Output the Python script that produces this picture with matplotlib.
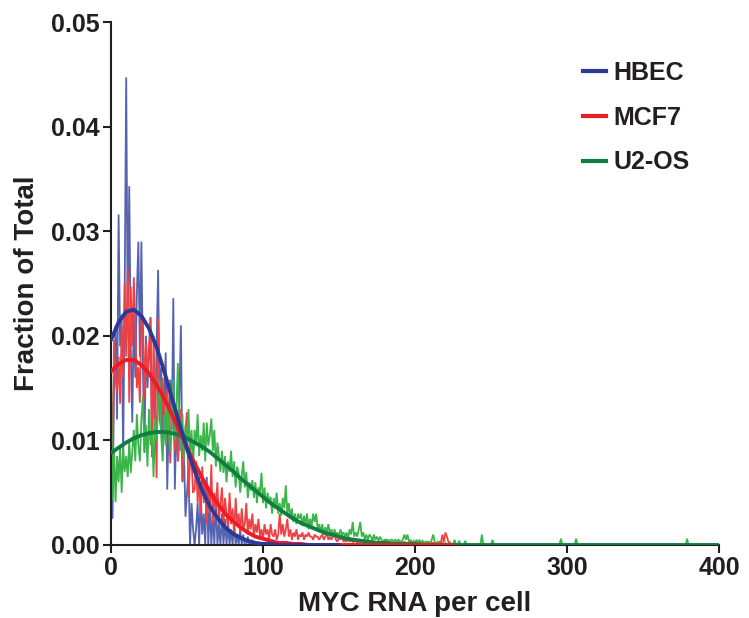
import matplotlib
matplotlib.use("Agg")
import matplotlib.pyplot as plt
from matplotlib.lines import Line2D

plt.rcParams['font.family'] = ['Liberation Sans', 'DejaVu Sans']
plt.rcParams['font.weight'] = 'bold'

# ---------------- data ----------------
series_names = ["HBEC", "MCF7", "U2-OS"]

hbec_y = [0.0025, 0.0026, 0.0150, 0.0210, 0.0120, 0.0316, 0.0190, 0.0220, 0.0083, 0.0240,
          0.0447, 0.0210, 0.0343, 0.0190, 0.0117, 0.0220, 0.0160, 0.0240, 0.0290, 0.0180,
          0.0290, 0.0170, 0.0088, 0.0200, 0.0150, 0.0180, 0.0218, 0.0084, 0.0170, 0.0120,
          0.0190, 0.0263, 0.0130, 0.0170, 0.0100, 0.0140, 0.0184, 0.0053, 0.0120, 0.0158,
          0.0110, 0.0236, 0.0053, 0.0120, 0.0080, 0.0140, 0.0210, 0.0060, 0.0090, 0.0027,
          0.0050, 0.0072, 0.0000, 0.0040, 0.0015, 0.0000, 0.0016, 0.0040, 0.0000, 0.0050,
          0.0010, 0.0030, 0.0000, 0.0065, 0.0000, 0.0040, 0.0000, 0.0030, 0.0000, 0.0045,
          0.0000, 0.0020, 0.0000, 0.0030, 0.0000, 0.0025, 0.0000, 0.0020, 0.0000, 0.0015,
          0.0000, 0.0020, 0.0000, 0.0010, 0.0000, 0.0015, 0.0000, 0.0010, 0.0000, 0.0000,
          0.0008, 0.0000, 0.0000, 0.0005, 0.0000, 0.0000]

mcf7_y = [0.0165, 0.0059, 0.0196, 0.0160, 0.0145, 0.0180, 0.0135, 0.0210, 0.0160, 0.0250,
          0.0180, 0.0265, 0.0136, 0.0247, 0.0190, 0.0256, 0.0212, 0.0150, 0.0170, 0.0136,
          0.0220, 0.0217, 0.0140, 0.0193, 0.0160, 0.0190, 0.0217, 0.0084, 0.0200, 0.0130,
          0.0064, 0.0217, 0.0120, 0.0110, 0.0160, 0.0130, 0.0100, 0.0150, 0.0120, 0.0078,
          0.0140, 0.0120, 0.0090, 0.0130, 0.0080, 0.0097, 0.0130, 0.0062, 0.0090, 0.0110,
          0.0127, 0.0046, 0.0080, 0.0081, 0.0050, 0.0053, 0.0080, 0.0040, 0.0065, 0.0030,
          0.0075, 0.0040, 0.0060, 0.0020, 0.0055, 0.0030, 0.0077, 0.0020, 0.0050, 0.0035,
          0.0060, 0.0020, 0.0040, 0.0055, 0.0020, 0.0045, 0.0030, 0.0015, 0.0050, 0.0020,
          0.0035, 0.0010, 0.0045, 0.0020, 0.0030, 0.0012, 0.0035, 0.0015, 0.0020, 0.0040,
          0.0010, 0.0025, 0.0015, 0.0030, 0.0008, 0.0020, 0.0012, 0.0025, 0.0008, 0.0015,
          0.0005, 0.0020, 0.0010, 0.0015, 0.0005, 0.0020, 0.0010, 0.0008, 0.0015, 0.0005,
          0.0010, 0.0030, 0.0010, 0.0020, 0.0008, 0.0015, 0.0025, 0.0008, 0.0015, 0.0005,
          0.0012, 0.0008, 0.0015, 0.0005, 0.0010, 0.0008, 0.0012, 0.0005, 0.0010, 0.0008,
          0.0012, 0.0008, 0.0008, 0.0005, 0.0010, 0.0008, 0.0008, 0.0005, 0.0008, 0.0010,
          0.0005, 0.0008, 0.0012, 0.0005, 0.0008, 0.0005, 0.0008, 0.0012, 0.0005, 0.0003,
          0.0008, 0.0005, 0.0010, 0.0003, 0.0005, 0.0003, 0.0008, 0.0003, 0.0005, 0.0003,
          0.0003, 0.0005, 0.0002, 0.0003, 0.0003, 0.0005, 0.0002, 0.0003, 0.0002, 0.0003,
          0.0003, 0.0002, 0.0005, 0.0002, 0.0003, 0.0002, 0.0002, 0.0003, 0.0002, 0.0002,
          0.0003, 0.0005, 0.0002, 0.0002, 0.0003, 0.0002, 0.0002, 0.0002, 0.0003, 0.0002,
          0.0003, 0.0002, 0.0002, 0.0003, 0.0002, 0.0002, 0.0002, 0.0003, 0.0002, 0.0002,
          0.0002, 0.0002, 0.0003, 0.0002, 0.0002, 0.0002, 0.0002, 0.0002, 0.0003, 0.0002,
          0.0002, 0.0002, 0.0002, 0.0002, 0.0002, 0.0002, 0.0003, 0.0002, 0.0010, 0.0003,
          0.0012, 0.0008, 0.0003, 0.0002]

u2os_y = [0.0174, 0.0043, 0.0090, 0.0041, 0.0085, 0.0060, 0.0095, 0.0050, 0.0094, 0.0070,
          0.0085, 0.0065, 0.0100, 0.0069, 0.0090, 0.0110, 0.0080, 0.0125, 0.0095, 0.0080,
          0.0120, 0.0142, 0.0090, 0.0115, 0.0075, 0.0130, 0.0095, 0.0110, 0.0065, 0.0120,
          0.0100, 0.0135, 0.0158, 0.0105, 0.0080, 0.0125, 0.0095, 0.0140, 0.0110, 0.0090,
          0.0120, 0.0158, 0.0100, 0.0130, 0.0174, 0.0105, 0.0090, 0.0125, 0.0080, 0.0115,
          0.0095, 0.0130, 0.0085, 0.0110, 0.0075, 0.0110, 0.0095, 0.0125, 0.0085, 0.0105,
          0.0090, 0.0117, 0.0080, 0.0117, 0.0095, 0.0105, 0.0121, 0.0090, 0.0110, 0.0075,
          0.0098, 0.0085, 0.0070, 0.0090, 0.0069, 0.0085, 0.0060, 0.0080, 0.0070, 0.0090,
          0.0065, 0.0080, 0.0055, 0.0075, 0.0069, 0.0050, 0.0065, 0.0080, 0.0055, 0.0070,
          0.0045, 0.0060, 0.0052, 0.0062, 0.0045, 0.0060, 0.0040, 0.0055, 0.0050, 0.0069,
          0.0040, 0.0055, 0.0035, 0.0050, 0.0040, 0.0046, 0.0030, 0.0045, 0.0035, 0.0050,
          0.0030, 0.0040, 0.0028, 0.0045, 0.0035, 0.0057, 0.0030, 0.0040, 0.0025, 0.0035,
          0.0022, 0.0030, 0.0020, 0.0030, 0.0025, 0.0030, 0.0018, 0.0028, 0.0020, 0.0030,
          0.0015, 0.0025, 0.0018, 0.0030, 0.0022, 0.0030, 0.0015, 0.0020, 0.0012, 0.0020,
          0.0010, 0.0017, 0.0012, 0.0020, 0.0010, 0.0015, 0.0008, 0.0015, 0.0010, 0.0012,
          0.0008, 0.0015, 0.0010, 0.0012, 0.0008, 0.0012, 0.0006, 0.0015, 0.0010, 0.0022,
          0.0008, 0.0012, 0.0008, 0.0015, 0.0022, 0.0008, 0.0012, 0.0005, 0.0010, 0.0005,
          0.0010, 0.0008, 0.0004, 0.0010, 0.0005, 0.0008, 0.0004, 0.0008, 0.0005, 0.0003,
          0.0005, 0.0005, 0.0005, 0.0003, 0.0005, 0.0005, 0.0003, 0.0005, 0.0003, 0.0005,
          0.0004, 0.0003, 0.0005, 0.0010, 0.0005, 0.0010, 0.0003, 0.0005, 0.0002, 0.0004,
          0.0002, 0.0005, 0.0002, 0.0005, 0.0002, 0.0004, 0.0002, 0.0003, 0.0001, 0.0003,
          0.0002, 0.0005, 0.0010, 0.0003, 0.0001, 0.0003, 0.0001, 0.0000, 0.0003, 0.0000,
          0.0002, 0.0000, 0.0000, 0.0003, 0.0000, 0.0000, 0.0005, 0.0000, 0.0000, 0.0004,
          0.0000, 0.0000, 0.0000, 0.0004, 0.0000, 0.0000, 0.0000, 0.0000, 0.0000, 0.0000,
          0.0000, 0.0000, 0.0000, 0.0000, 0.0010, 0.0000, 0.0000, 0.0000, 0.0000, 0.0000,
          0.0000, 0.0005, 0.0000, 0.0000, 0.0000, 0.0000, 0.0000, 0.0000, 0.0000, 0.0000,
          0.0000, 0.0000, 0.0000, 0.0000, 0.0000, 0.0000, 0.0000, 0.0000, 0.0000, 0.0000,
          0.0000, 0.0000, 0.0000, 0.0000, 0.0000, 0.0000, 0.0000, 0.0000, 0.0000, 0.0000,
          0.0000, 0.0000, 0.0000, 0.0000, 0.0000, 0.0000, 0.0000, 0.0000, 0.0000, 0.0000,
          0.0000, 0.0000, 0.0000, 0.0000, 0.0000, 0.0000, 0.0006, 0.0000, 0.0000, 0.0000,
          0.0000, 0.0000, 0.0000, 0.0000, 0.0000, 0.0000, 0.0006, 0.0000, 0.0000, 0.0000,
          0.0000, 0.0000, 0.0000, 0.0000, 0.0000, 0.0000, 0.0000, 0.0000, 0.0000, 0.0000,
          0.0000, 0.0000, 0.0000, 0.0000, 0.0000, 0.0000, 0.0000, 0.0000, 0.0000, 0.0000,
          0.0000, 0.0000, 0.0000, 0.0000, 0.0000, 0.0000, 0.0000, 0.0000, 0.0000, 0.0000,
          0.0000, 0.0000, 0.0000, 0.0000, 0.0000, 0.0000, 0.0000, 0.0000, 0.0000, 0.0000,
          0.0000, 0.0000, 0.0000, 0.0000, 0.0000, 0.0000, 0.0000, 0.0000, 0.0000, 0.0000,
          0.0000, 0.0000, 0.0000, 0.0000, 0.0000, 0.0000, 0.0000, 0.0000, 0.0000, 0.0000,
          0.0000, 0.0000, 0.0000, 0.0000, 0.0000, 0.0000, 0.0000, 0.0000, 0.0000, 0.0006,
          0.0000, 0.0000, 0.0000, 0.0000, 0.0000, 0.0000, 0.0000, 0.0000, 0.0000, 0.0000,
          0.0000, 0.0000, 0.0000, 0.0000, 0.0000, 0.0000, 0.0000, 0.0000, 0.0000, 0.0000]

# fitted curves, read every 5 units of MYC RNA per cell
fit_x = list(range(0, 401, 5))
hbec_fit = [0.0196, 0.0213, 0.0223, 0.0225, 0.0219, 0.0207, 0.0189, 0.0166, 0.0141, 0.0116,
            0.0092, 0.0071, 0.0052, 0.0037, 0.0026, 0.0017, 0.0011, 0.0007, 0.0004, 0.0002,
            0.0001, 0.0001, 0.0, 0.0, 0.0, 0.0, 0.0, 0.0, 0.0, 0.0, 0.0]
mcf7_fit = [0.0166, 0.0173, 0.0177, 0.0177, 0.0172, 0.0164, 0.0153, 0.0140, 0.0125, 0.0109,
            0.0093, 0.0078, 0.0064, 0.0051, 0.0040, 0.0030, 0.0023, 0.0017, 0.0012, 0.0008,
            0.0006, 0.0004, 0.0002, 0.0002, 0.0001, 0.0001, 0.0, 0.0, 0.0, 0.0,
            0.0, 0.0, 0.0, 0.0, 0.0, 0.0, 0.0, 0.0, 0.0, 0.0, 0.0, 0.0, 0.0, 0.0, 0.0, 0.0]
u2os_fit = [0.0088, 0.0093, 0.0098, 0.0102, 0.0105, 0.0107, 0.0108, 0.0108, 0.0107, 0.0105,
            0.0102, 0.0098, 0.0094, 0.0089, 0.0083, 0.0077, 0.0071, 0.0064, 0.0058, 0.0052,
            0.0046, 0.0040, 0.0035, 0.0030, 0.0025, 0.0021, 0.0018, 0.0015, 0.0012, 0.0010,
            0.0008, 0.0006, 0.0005, 0.0004, 0.0003, 0.0002, 0.0002, 0.0001, 0.0001, 0.0001,
            0.0001, 0.0, 0.0, 0.0, 0.0, 0.0, 0.0, 0.0, 0.0, 0.0,
            0.0, 0.0, 0.0, 0.0, 0.0, 0.0, 0.0, 0.0, 0.0, 0.0,
            0.0, 0.0, 0.0, 0.0, 0.0, 0.0, 0.0, 0.0, 0.0, 0.0,
            0.0, 0.0, 0.0, 0.0, 0.0, 0.0, 0.0, 0.0, 0.0, 0.0, 0.0]

x_ticks = [0, 100, 200, 300, 400]
y_ticks = [0.00, 0.01, 0.02, 0.03, 0.04, 0.05]
x_label = "MYC RNA per cell"
y_label = "Fraction of Total"

# ---------------- styling ----------------
data_colors = ["#5563b0", "#ef4044", "#3bb54a"]
fit_colors = ["#2b3a97", "#ec1c24", "#0e7f40"]
ink = "#231f20"

fig = plt.figure(figsize=(7.49, 6.18), dpi=100)
ax = fig.add_axes([111 / 749, 73 / 618, 608 / 749, 523 / 618])

data_series = [hbec_y, mcf7_y, u2os_y]
for ys, c in zip(data_series, data_colors):
    ax.plot(range(len(ys)), ys, color=c, lw=1.3, solid_joinstyle='miter', zorder=2)

fit_series = [hbec_fit, mcf7_fit, u2os_fit]
for idx in [2, 1, 0]:
    ys = fit_series[idx]
    ax.plot(fit_x[:len(ys)], ys, color=fit_colors[idx], lw=2.8, zorder=3,
            solid_capstyle='round')

ax.set_xlim(0, 400)
ax.set_ylim(0, 0.05)
ax.set_xticks(x_ticks)
ax.set_yticks(y_ticks)
ax.set_xticklabels([str(t) for t in x_ticks])
ax.set_yticklabels([f"{t:.2f}" for t in y_ticks])

for s in ["top", "right"]:
    ax.spines[s].set_visible(False)
for s in ["left", "bottom"]:
    ax.spines[s].set_linewidth(1.5)
    ax.spines[s].set_color(ink)
ax.tick_params(axis='both', direction='out', length=6, width=1.5, color=ink,
               labelsize=18, labelcolor=ink, pad=2)
for lab in ax.get_xticklabels() + ax.get_yticklabels():
    lab.set_fontweight('bold')

ax.set_xlabel(x_label, fontsize=20, fontweight='bold', color=ink, labelpad=8)
ax.set_ylabel(y_label, fontsize=20, fontweight='bold', color=ink, labelpad=8)

handles = [Line2D([0], [0], color=c, lw=3) for c in fit_colors]
leg = ax.legend(handles, series_names, loc='upper left', bbox_to_anchor=(0.76, 0.945),
                frameon=False, fontsize=18, handlelength=0.9, handletextpad=0.3,
                labelspacing=0.83, borderaxespad=0)
for t in leg.get_texts():
    t.set_fontweight('bold')
    t.set_color(ink)

fig.savefig("out.png", dpi=100)
